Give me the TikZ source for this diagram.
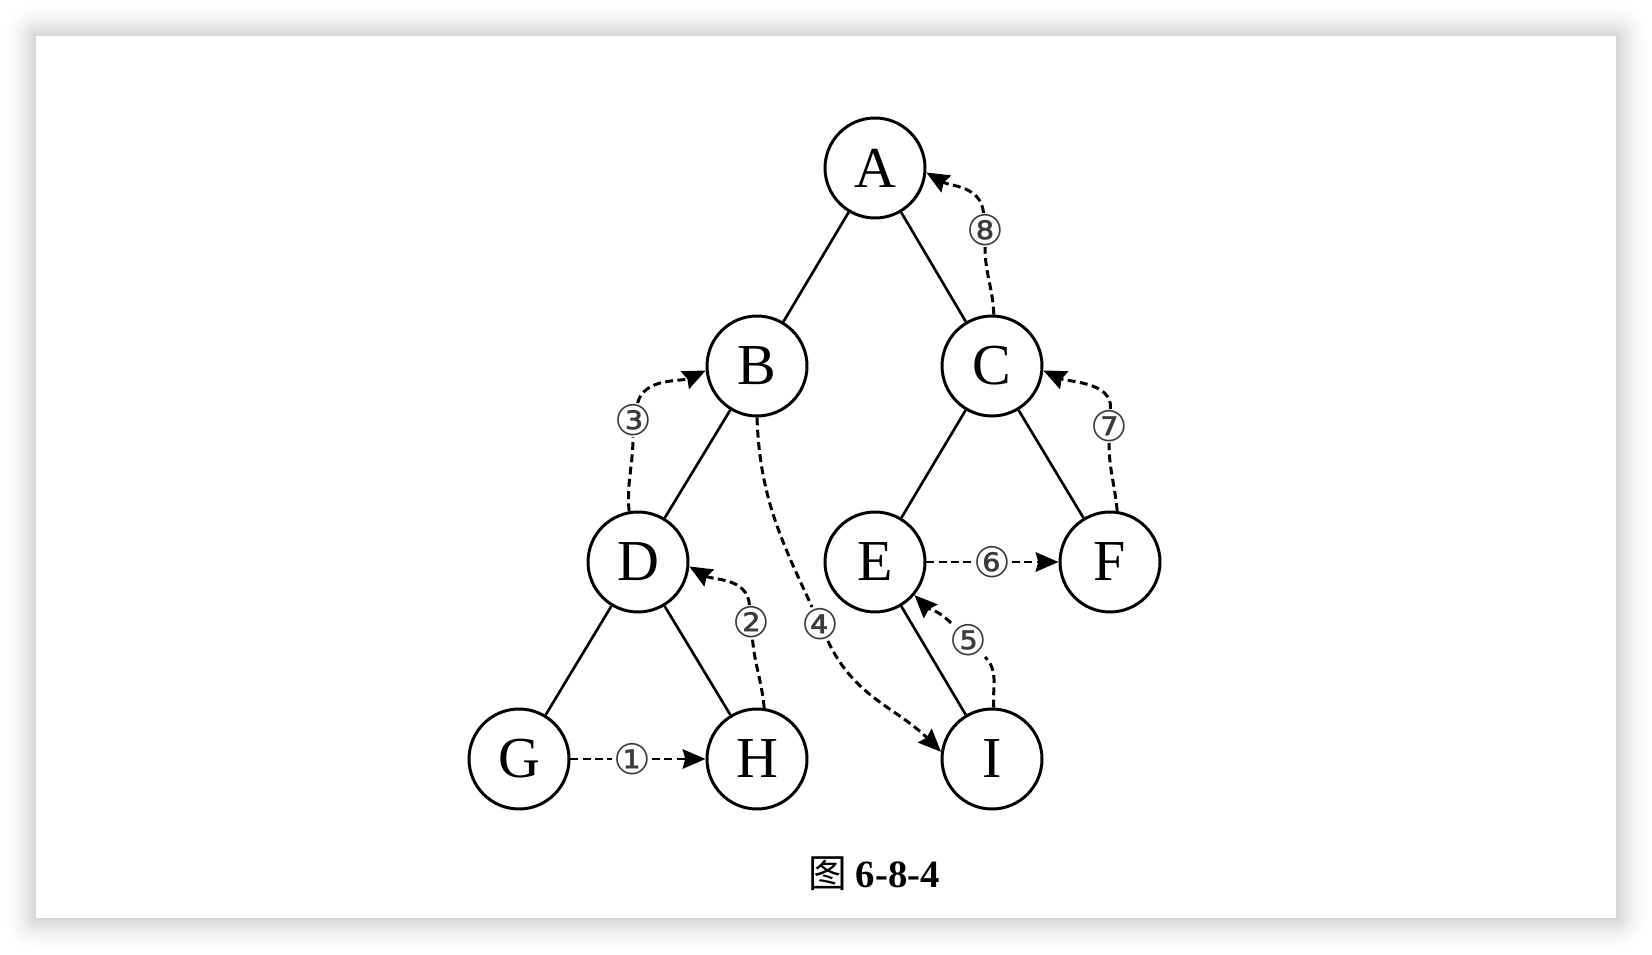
\documentclass[tikz,border=0pt]{standalone}
\usepackage{fontspec}
\setmainfont{Liberation Serif}
\newfontfamily\cjkfont{Noto Sans CJK SC}
\newfontfamily\symfont{DejaVu Sans}
\usepackage{xcolor}
\definecolor{tagtext}{RGB}{60, 60, 60}
\usepackage{tikz}
\usetikzlibrary{arrows.meta, positioning, calc}

\begin{document}
\begin{tikzpicture}[x=0.02cm, y=0.02cm, >=Stealth,
    vertex/.style={draw, circle, fill=white, line width=1.7pt, minimum size=2cm, inner sep=0pt, font=\fontsize{33}{38}\selectfont},
    treeline/.style={line width=1.5pt},
    thread/.style={line width=1.7pt, dash pattern=on 4.5pt off 2.5pt, -{Stealth[length=13pt, width=11pt, inset=1.5pt]}},
    tag/.style={fill=white, inner sep=0.5pt, text=tagtext, font=\symfont\fontsize{24}{24}\selectfont}]
    \useasboundingbox (0,0) rectangle (1652,954);
    % card with soft shadow
    \foreach \d in {36,35,...,1} {
        \pgfmathsetmacro\shade{17*(1-\d/36)^2}
        \fill[black!\shade, rounded corners=\d*0.02cm] (36-\d,36-\d) rectangle (1616+\d,918+\d);
    }
    \fill[white] (36,36) rectangle (1616,918);
    % tree
    \node[vertex] (A) at (875,786) {A};
    \node[vertex] (B) at (757,588) {B};
    \node[vertex] (C) at (992,588) {C};
    \node[vertex] (D) at (638,392) {D};
    \node[vertex] (E) at (875,392) {E};
    \node[vertex] (F) at (1110,392) {F};
    \node[vertex] (G) at (519,195) {G};
    \node[vertex] (H) at (757,195) {H};
    \node[vertex] (I) at (992,195) {I};
    \draw[treeline] (A) -- (B);
    \draw[treeline] (A) -- (C);
    \draw[treeline] (B) -- (D);
    \draw[treeline] (C) -- (E);
    \draw[treeline] (C) -- (F);
    \draw[treeline] (D) -- (G);
    \draw[treeline] (D) -- (H);
    \draw[treeline] (E) -- (I);
    % visiting order
    \node[tag] (t1) at (632,195) {①};
    \node[tag] (t2) at (751,332) {②};
    \node[tag] (t3) at (633,534) {③};
    \node[tag] (t4) at (820,330) {④};
    \node[tag] (t5) at (968,314) {⑤};
    \node[tag] (t6) at (992,392) {⑥};
    \node[tag] (t7) at (1109,528) {⑦};
    \node[tag] (t8) at (985,724) {⑧};
    \draw[thread] (G) -- (t1) -- (H);
    \draw[thread] (H.82) to[out=95, in=-85] (t2) to[out=95, in=-30] (D.-5);
    \draw[thread] (D.100) to[out=95, in=-90] (t3) to[out=75, in=205, looseness=0.9] (B.185);
    \draw[thread] (B.270) to[out=-88, in=115] (t4) to[out=-65, in=135] (I.172);
    \draw[thread] (I.88) to[out=95, in=-45] (t5) to[out=135, in=-45] (E.-40);
    \draw[thread] (E) -- (t6) -- (F);
    \draw[thread] (F.82) to[out=95, in=-90] (t7) to[out=85, in=-25, looseness=0.9] (C.-5);
    \draw[thread] (C.88) to[out=92, in=-90] (t8) to[out=95, in=-30] (A.-5);
    \node (cap) at (874,80) {\fontsize{22}{24}\selectfont\cjkfont 图\ \rmfamily\bfseries 6-8-4};
\end{tikzpicture}
\end{document}
